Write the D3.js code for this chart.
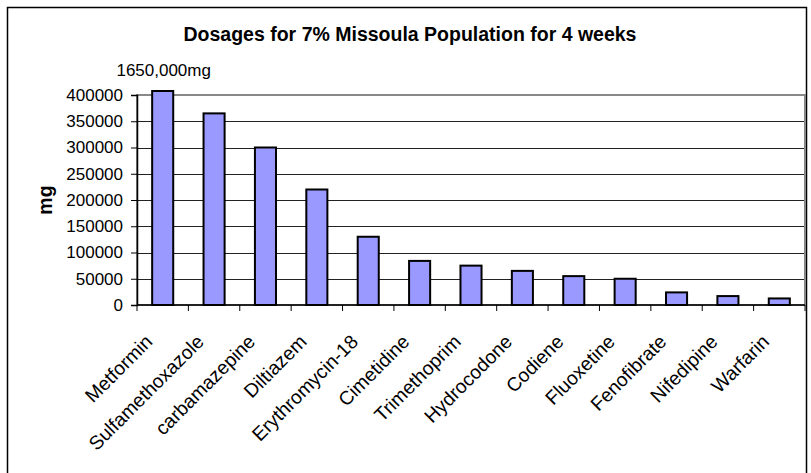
<!DOCTYPE html>
<html>
<head>
<meta charset="utf-8">
<script src="https://cdn.jsdelivr.net/npm/d3@7"></script>
<style>
  html, body { margin: 0; padding: 0; background: #fff; }
  svg { display: block; font-family: Arial, "Liberation Sans", sans-serif; }
</style>
</head>
<body>
<svg id="chart" width="811" height="473"></svg>
<script>
const categories = ["Metformin", "Sulfamethoxazole", "carbamazepine", "Diltiazem", "Erythromycin-18",
  "Cimetidine", "Trimethoprim", "Hydrocodone", "Codiene", "Fluoxetine", "Fenofibrate", "Nifedipine", "Warfarin"];
const values = [1650000, 365000, 300000, 220000, 130000, 84000, 75000, 65000, 55000, 50000, 24000, 17000, 12500];
const yTicks = [0, 50000, 100000, 150000, 200000, 250000, 300000, 350000, 400000];
const titleText = "Dosages for 7% Missoula Population for 4 weeks";
const yAxisTitle = "mg";
const overflowLabel = "1650,000mg";

const svg = d3.select("#chart");
const plot = { left: 137, right: 805, top: 95, bottom: 305 };

// outer frame
svg.append("rect").attr("x", 7.5).attr("y", 7.5).attr("width", 799).attr("height", 475)
  .attr("fill", "#fff").attr("stroke", "#000").attr("stroke-width", 1.5);

const x = d3.scaleBand().domain(categories).range([plot.left, plot.right]).paddingInner(0.59).paddingOuter(0.295);
const xb = d3.scaleBand().domain(categories).range([plot.left, plot.right]);
const yMax = 400000;
const y = d3.scaleLinear().domain([0, yMax]).range([plot.bottom, plot.top]);

// gridlines
svg.append("g").selectAll("line").data(yTicks.filter(t => t > 0 && t < yMax)).join("line")
  .attr("x1", plot.left).attr("x2", plot.right)
  .attr("y1", d => Math.round(y(d)) + 0.5).attr("y2", d => Math.round(y(d)) + 0.5)
  .attr("stroke", "#222").attr("stroke-width", 1);

// plot border
svg.append("rect").attr("x", plot.left).attr("y", plot.top)
  .attr("width", plot.right - plot.left).attr("height", plot.bottom - plot.top)
  .attr("fill", "none").attr("stroke", "#888").attr("stroke-width", 2);

// bars
const overflow = 4;
svg.append("g").selectAll("rect").data(categories).join("rect")
  .attr("x", d => x(d))
  .attr("width", x.bandwidth())
  .attr("y", (d, i) => values[i] > yMax ? y(yMax) - overflow : y(values[i]))
  .attr("height", (d, i) => values[i] > yMax ? plot.bottom - y(yMax) + overflow : plot.bottom - y(values[i]))
  .attr("fill", "#9999FF").attr("stroke", "#000").attr("stroke-width", 2);

// y axis
const yAxis = d3.axisLeft(y).tickValues(yTicks).tickFormat(d3.format("d")).tickSize(6).tickPadding(8);
const gy = svg.append("g").attr("transform", `translate(${plot.left},0)`).call(yAxis);
gy.select(".domain").attr("stroke", "#000").attr("stroke-width", 1.5);
gy.selectAll(".tick line").attr("stroke", "#000");
gy.selectAll(".tick text").attr("font-size", 17).attr("fill", "#000")
  .attr("font-family", "Arial, 'Liberation Sans', sans-serif");

// x axis
const gx = svg.append("g").attr("transform", `translate(0,${plot.bottom})`);
gx.append("line").attr("x1", plot.left).attr("x2", plot.right).attr("y1", 0).attr("y2", 0)
  .attr("stroke", "#000").attr("stroke-width", 1.5);
const boundaries = categories.map(c => xb(c)).concat([plot.right]);
gx.selectAll("line.tk").data(boundaries).join("line").attr("class", "tk")
  .attr("x1", d => d).attr("x2", d => d).attr("y1", 0).attr("y2", 6)
  .attr("stroke", "#000").attr("stroke-width", 1);
gx.selectAll("text").data(categories).join("text")
  .attr("transform", d => `translate(${xb(d) + xb.bandwidth() / 2 - 9},38) rotate(-45)`)
  .attr("text-anchor", "end")
  .attr("font-size", 19.3).attr("fill", "#000")
  .text(d => d);

// title
svg.append("text").attr("x", 410).attr("y", 41).attr("text-anchor", "middle")
  .attr("font-size", 19.5).attr("font-weight", "bold").text(titleText);

// y axis title
svg.append("text").attr("transform", `translate(52,${(plot.top + plot.bottom) / 2}) rotate(-90)`)
  .attr("text-anchor", "middle").attr("font-size", 19.5).attr("font-weight", "bold").text(yAxisTitle);

// overflow label
svg.append("text").attr("x", xb(categories[0]) + xb.bandwidth() / 2 + 1).attr("y", 76)
  .attr("text-anchor", "middle").attr("font-size", 17).text(overflowLabel);
</script>
</body>
</html>
